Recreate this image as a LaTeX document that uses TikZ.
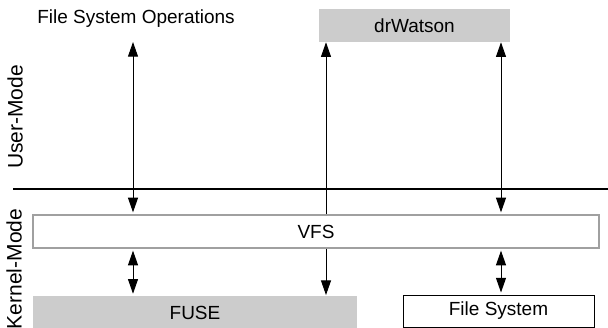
\documentclass[tikz,border=0pt]{standalone}
\usepackage{fontspec}
\setmainfont{Liberation Sans}
\usetikzlibrary{arrows.meta}

\definecolor{boxgray}{RGB}{204,204,204}
\definecolor{rimgray}{RGB}{160,160,160}

\tikzset{
  >={Triangle[length=11pt,width=7.5pt]},
  conn/.style={line width=0.75pt},
  lbl/.style={inner sep=0pt,font=\fontsize{14.25}{17}\selectfont},
  modelbl/.style={inner sep=0pt,rotate=90,font=\fontsize{15.75}{19}\selectfont},
  layer/.style={lbl,minimum height=24.75pt}
}

\begin{document}
\begin{tikzpicture}[x=0.75pt,y=0.75pt,yscale=-1,xscale=1]
\useasboundingbox (0,0) rectangle (608,328);

% Column positions
\coordinate (c1) at (133,0);
\coordinate (c2) at (326,0);
\coordinate (c3) at (501,0);

% Text Node
\node[lbl] (ops) at (136,19) {File System Operations};
\coordinate (opsend) at (133,42);

% Box: drWatson
\node[layer,fill=boxgray,minimum width=143.25pt] (drw) at (414.5,25.5) {drWatson};

% Box: VFS
\node[layer,draw=rimgray,line width=1pt,fill=white,minimum width=424.5pt] (vfs) at (316,231.5) {VFS};

% Box: FUSE
\node[layer,fill=boxgray,minimum width=243pt,minimum height=25.5pt] (fuse) at (195,313) {FUSE};

% Box: File System
\node[layer,draw=black,line width=0.75pt,minimum width=143.25pt,minimum height=24pt] (fs) at (498.5,311) {File System};

% Mode divider
\draw[line width=0.9pt] (13,189) -- (608,189);

% Mode labels
\node[modelbl] (user) at (15,117) {User-Mode};
\node[modelbl] (kernel) at (14,269) {Kernel-Mode};

% Connectors above VFS
\draw[conn,<->,shorten >=1.5pt] (opsend) -- (vfs.north -| c1);
\draw[conn,->] (vfs.north -| c2) -- (drw.south -| c2);
\draw[conn,<->,shorten >=1.5pt] (drw.south -| c3) -- (vfs.north -| c3);

% Connectors below VFS
\draw[conn,<->,shorten <=1.5pt,shorten >=1.5pt] (vfs.south -| c1) -- (fuse.north -| c1);
\draw[conn,->,shorten >=0.5pt] (vfs.south -| c2) -- (fuse.north -| c2);
\draw[conn,<->,shorten <=1.5pt,shorten >=1.5pt] (vfs.south -| c3) -- (fs.north -| c3);

\end{tikzpicture}
\end{document}
